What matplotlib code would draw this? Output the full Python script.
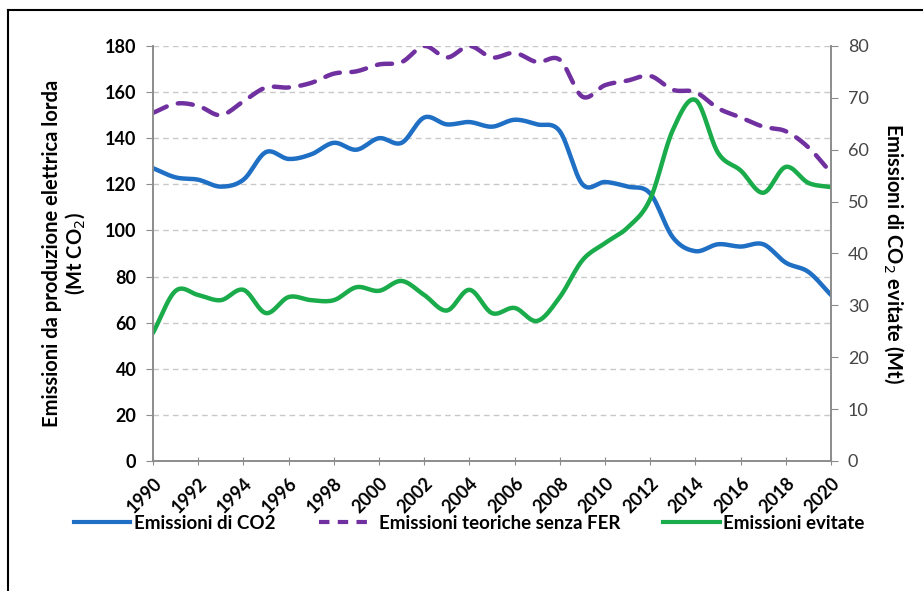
import numpy as np
import matplotlib
matplotlib.use('Agg')
import matplotlib.pyplot as plt
from matplotlib.lines import Line2D

plt.rcParams['font.family'] = ['Lato', 'DejaVu Sans']

# data
years = list(range(1990, 2021))
co2 = [127, 123, 122, 119, 122, 134, 131, 133, 138, 135, 140, 138, 149, 146, 147, 145,
       148, 146, 143, 120, 121, 119, 116, 97, 91, 94, 93, 94, 86, 82, 72]
no_fer = [151, 155, 154, 150, 156, 162, 162, 164, 168, 169, 172, 173, 180, 175, 180, 175,
          177, 173, 174, 158, 163, 165, 167, 161, 160, 153, 149, 145, 143, 136, 125]
avoided = [24.7, 32.8, 32, 31, 33, 28.5, 31.6, 31, 31, 33.5, 32.8, 34.7, 32, 29, 33, 28.5,
           29.5, 27, 31.6, 38.7, 42, 45, 50.5, 63.8, 69.6, 59.4, 56, 51.7, 56.7, 53.6, 52.8]

left_ticks = list(range(0, 181, 20))
right_ticks = list(range(0, 81, 10))
year_ticks = list(range(1990, 2021, 2))

BLUE = '#1f6fc5'
PURPLE = '#7030a0'
GREEN = '#1aab4b'


def smooth(x, y, n=12):
    # catmull-rom, like excel's smoothed line
    x = np.asarray(x, float)
    y = np.asarray(y, float)
    px = np.concatenate([[2 * x[0] - x[1]], x, [2 * x[-1] - x[-2]]])
    py = np.concatenate([[2 * y[0] - y[1]], y, [2 * y[-1] - y[-2]]])
    t = np.linspace(0, 1, n, endpoint=False)
    xs, ys = [], []
    for i in range(1, len(px) - 2):
        for p, out in ((px, xs), (py, ys)):
            p0, p1, p2, p3 = p[i - 1], p[i], p[i + 1], p[i + 2]
            out.extend(0.5 * (2 * p1 + (-p0 + p2) * t
                              + (2 * p0 - 5 * p1 + 4 * p2 - p3) * t ** 2
                              + (-p0 + 3 * p1 - 3 * p2 + p3) * t ** 3))
    xs.append(x[-1])
    ys.append(y[-1])
    return xs, ys


fig = plt.figure(figsize=(9.24, 5.91), dpi=100)
ax = fig.add_axes([0.1656, 0.22, 0.7338, 0.7022])
ax2 = ax.twinx()

ax.set_xlim(1990, 2020)
ax.set_ylim(0, 180)
ax2.set_ylim(0, 80)

for v in left_ticks[1:]:
    ax.axhline(v, color='#c8c8c8', lw=1, ls=(0, (4, 3)), zorder=0)

sx, sy = smooth(years, co2)
ax.plot(sx, sy, color=BLUE, lw=3.2, solid_capstyle='round')
sx, sy = smooth(years, no_fer)
ax.plot(sx, sy, color=PURPLE, lw=3.2, ls=(0, (3.4, 2.6)), dash_capstyle='round')
sx, sy = smooth(years, avoided)
ax2.plot(sx, sy, color=GREEN, lw=3.2, solid_capstyle='round')

ax.set_yticks(left_ticks)
ax.set_yticklabels([str(v) for v in left_ticks], fontsize=13, fontweight='bold')
ax2.set_yticks(right_ticks)
ax2.set_yticklabels([str(v) for v in right_ticks], fontsize=13, color='#454545')
ax.set_xticks(year_ticks)
ax.set_xticklabels([str(v) for v in year_ticks], rotation=45, fontsize=13,
                   fontweight='bold', ha='right', rotation_mode='anchor')

for a in (ax, ax2):
    a.spines['top'].set_visible(False)
    for s in ('left', 'right', 'bottom'):
        a.spines[s].set_color('#8c8c8c')
        a.spines[s].set_linewidth(1.2)
ax.tick_params(axis='y', length=5, color='#8c8c8c', pad=7)
ax.tick_params(axis='x', length=6, direction='inout', color='#8c8c8c', pad=7)
ax2.tick_params(axis='y', length=5, color='#8c8c8c', pad=7)

ax.set_ylabel('Emissioni da produzione elettrica lorda\n(Mt CO$_2$)', fontsize=14.5,
              fontweight='bold', linespacing=1.05, labelpad=13)
ax2.set_ylabel('Emissioni di CO$_2$ evitate (Mt)', fontsize=14.5, fontweight='bold',
               rotation=270, labelpad=27)

handles = [Line2D([], [], color=BLUE, lw=3),
           Line2D([], [], color=PURPLE, lw=3, ls=(0, (2.5, 2))),
           Line2D([], [], color=GREEN, lw=3)]
fig.legend(handles, ['Emissioni di CO2', 'Emissioni teoriche senza FER', 'Emissioni evitate'],
           loc='center', bbox_to_anchor=(0.508, 0.115), ncol=3, frameon=False,
           prop={'size': 13.5, 'weight': 'bold'}, handlelength=3.0, handletextpad=0.2,
           columnspacing=2.3)

# outer frame (top and left edges only)
fig.add_artist(Line2D([0.009, 0.998], [0.983, 0.983], color='black', lw=1.5,
                      transform=fig.transFigure))
fig.add_artist(Line2D([0.009, 0.009], [0.0, 0.983], color='black', lw=1.5,
                      transform=fig.transFigure))

fig.savefig('out.png', dpi=100)
